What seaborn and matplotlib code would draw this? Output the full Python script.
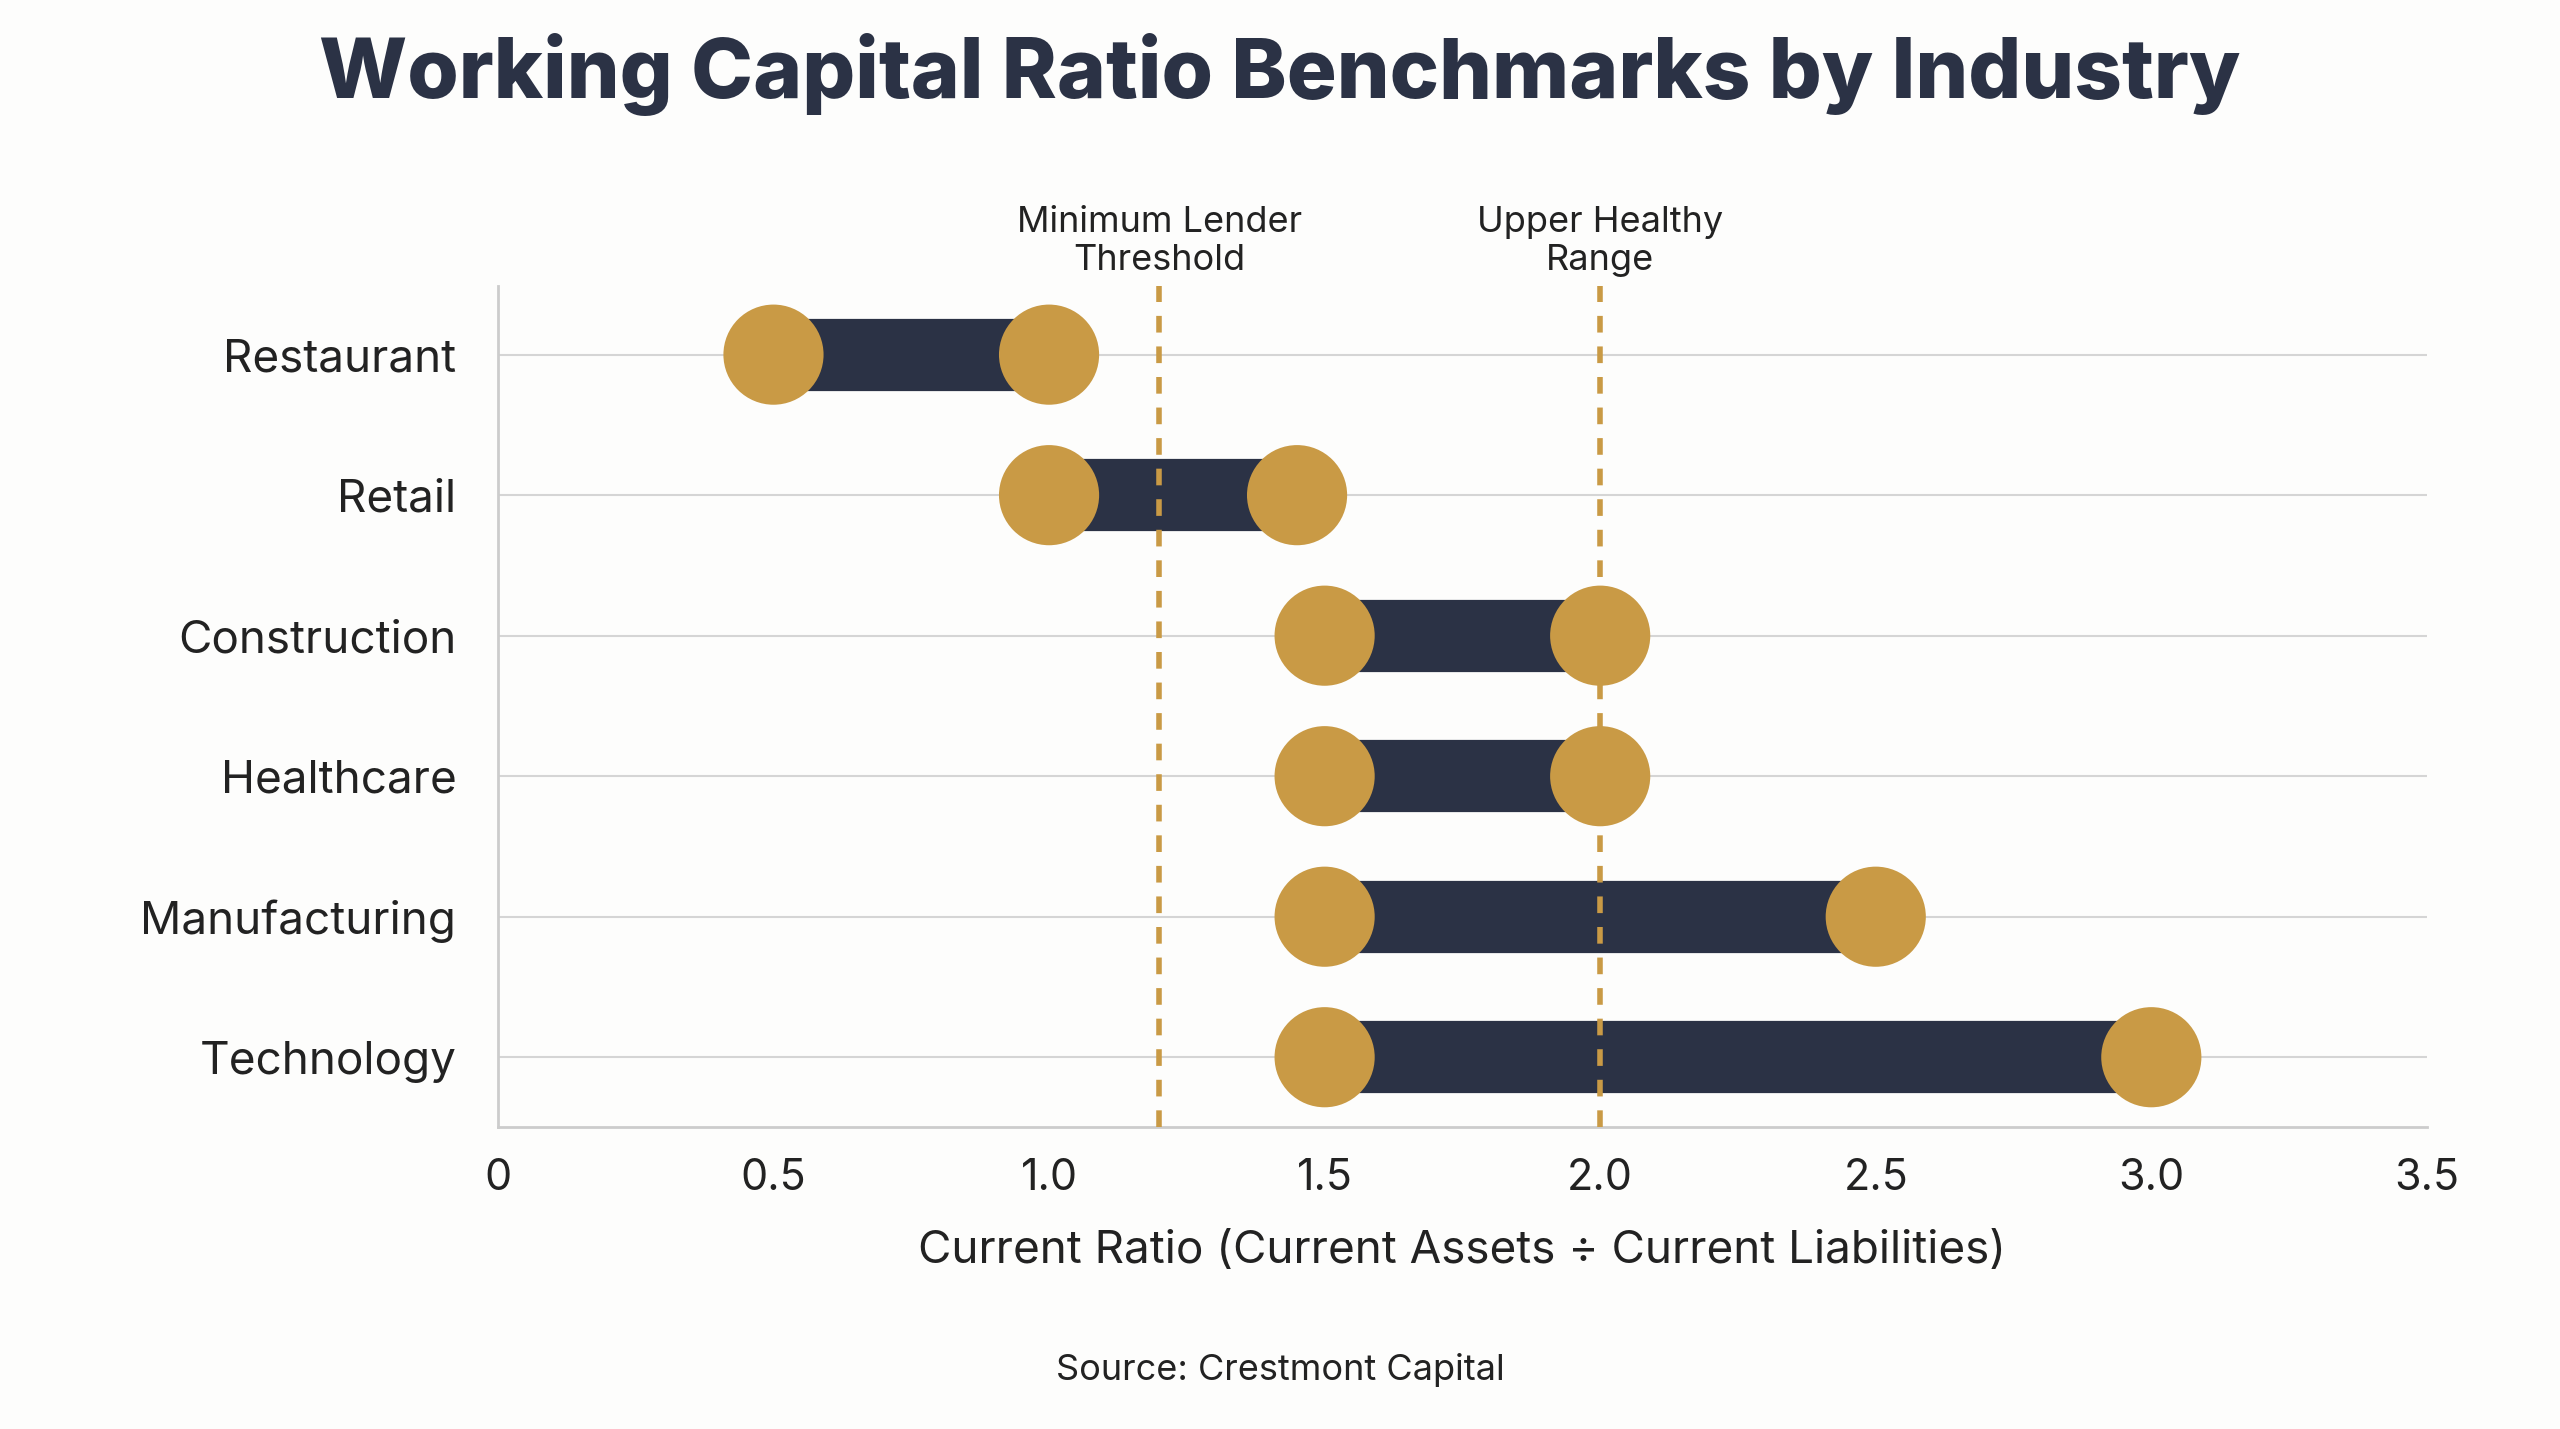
import numpy as np
import pandas as pd
import seaborn as sns
from matplotlib import pyplot as plt

industries = ['Restaurant', 'Retail', 'Construction', 'Healthcare', 'Manufacturing', 'Technology']
low = [0.5, 1.0, 1.5, 1.5, 1.5, 1.5]
high = [1.0, 1.45, 2.0, 2.0, 2.5, 3.0]
ref_values = [1.2, 2.0]
ref_labels = ['Minimum Lender\nThreshold', 'Upper Healthy\nRange']
xticks = [0, 0.5, 1.0, 1.5, 2.0, 2.5, 3.0, 3.5]
xtick_labels = ['0', '0.5', '1.0', '1.5', '2.0', '2.5', '3.0', '3.5']

navy = '#2b3245'
gold = '#c99a45'
title_color = '#2b3245'

sns.set_theme(style='white')
plt.rcParams['font.family'] = ['Inter', 'DejaVu Sans']

df = pd.DataFrame({'industry': industries, 'low': low, 'high': high})
pts = pd.concat([
    df[['industry', 'low']].rename(columns={'low': 'value'}),
    df[['industry', 'high']].rename(columns={'high': 'value'}),
])
pos = {name: i for i, name in enumerate(industries)}
pts['y'] = pts['industry'].map(pos)

fig = plt.figure(figsize=(25.6, 14.29), dpi=100, facecolor='#fdfdfc')
ax = fig.add_axes([0.1945, 0.211, 0.7535, 0.589])
ax.set_facecolor('#fdfdfc')

for i in range(len(industries)):
    ax.axhline(i, color='#d5d5d5', lw=1.5, zorder=0)

ax.hlines(df.index, df['low'], df['high'], color=navy, lw=52, zorder=2)
sns.scatterplot(data=pts, x='value', y='y', color=gold, s=5200, edgecolor='none',
                ax=ax, zorder=3, legend=False)

for v, lab in zip(ref_values, ref_labels):
    ax.axvline(v, color=gold, lw=4, ls=(0, (3, 2.5)), zorder=4)
    ax.text(v, -0.55, lab, ha='center', va='bottom', fontsize=26, color='#222222')

ax.set_xlim(0, 3.5)
ax.set_ylim(5.5, -0.49)
ax.set_yticks(range(len(industries)))
ax.set_yticklabels(industries, fontsize=33, color='#222222')
ax.set_xticks(xticks)
ax.set_xticklabels(xtick_labels, fontsize=31, color='#222222')
ax.tick_params(axis='y', pad=30, length=0)
ax.tick_params(axis='x', pad=22, length=0)
ax.set_xlabel('Current Ratio (Current Assets ÷ Current Liabilities)', fontsize=33,
              color='#222222', labelpad=22)
ax.set_ylabel('')
for s in ['top', 'right']:
    ax.spines[s].set_visible(False)
for s in ['left', 'bottom']:
    ax.spines[s].set_color('#cccccc')
    ax.spines[s].set_linewidth(2)

fig.text(0.5, 0.948, 'Working Capital Ratio Benchmarks by Industry', ha='center', va='center',
         fontsize=60, fontweight='heavy', color=title_color)
fig.text(0.5, 0.041, 'Source: Crestmont Capital', ha='center', va='center',
         fontsize=26, color='#222222')

fig.savefig('out.png', dpi=100, facecolor=fig.get_facecolor())
